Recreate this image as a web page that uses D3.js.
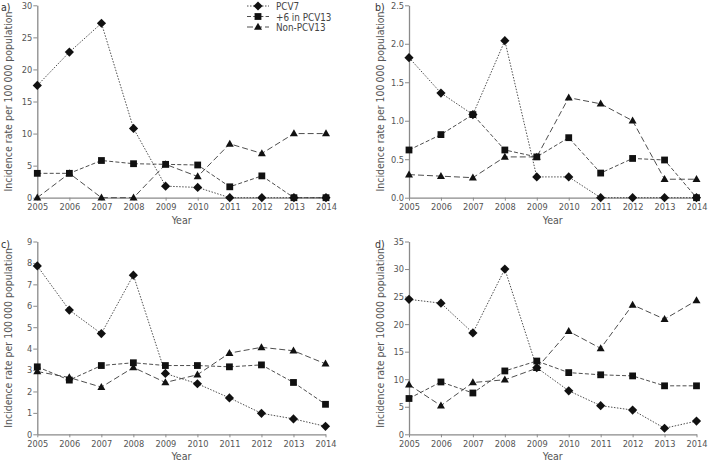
<!DOCTYPE html>
<html><head><meta charset="utf-8">
<script src="https://cdn.jsdelivr.net/npm/d3@7"></script>
<style>
body{margin:0;background:#fff;}
svg text{font-family:"DejaVu Sans","Liberation Sans",sans-serif;font-stretch:condensed;}
</style></head>
<body><svg id="chart" width="709" height="464"></svg>
<script>
const years = [2005,2006,2007,2008,2009,2010,2011,2012,2013,2014];
const seriesNames = ["PCV7", "+6 in PCV13", "Non-PCV13"];

// panel a
const aPCV7  = [17.5,22.7,27.2,10.8,1.8,1.6,0,0,0,0];
const aPlus6 = [3.8,3.8,5.8,5.3,5.2,5.1,1.7,3.4,0,0];
const aNon   = [0,3.8,0,0,5.2,3.3,8.4,6.9,10,10];
const aTicks = [0,5,10,15,20,25,30];
// panel b
const bPCV7  = [1.82,1.36,1.08,2.04,0.27,0.27,0,0,0,0];
const bPlus6 = [0.62,0.82,1.08,0.62,0.53,0.78,0.32,0.51,0.49,0];
const bNon   = [0.30,0.28,0.26,0.53,0.53,1.30,1.22,1.0,0.24,0.24];
const bTicks = [0,0.5,1.0,1.5,2.0,2.5];
// panel c
const cPCV7  = [7.86,5.8,4.7,7.43,2.84,2.36,1.70,0.98,0.72,0.37];
const cPlus6 = [3.15,2.53,3.21,3.34,3.21,3.21,3.15,3.24,2.42,1.40];
const cNon   = [2.93,2.65,2.2,3.12,2.42,2.78,3.79,4.06,3.9,3.29];
const cTicks = [0,1,2,3,4,5,6,7,8,9];
// panel d
const dPCV7  = [24.5,23.8,18.4,30.0,12.1,7.9,5.2,4.4,1.1,2.4];
const dPlus6 = [6.5,9.5,7.5,11.5,13.3,11.2,10.8,10.6,8.8,8.8];
const dNon   = [9.0,5.2,9.4,9.9,12.0,18.7,15.6,23.5,20.9,24.3];
const dTicks = [0,5,10,15,20,25,30,35];

const panels = [
  {label:"a)", series:[aPCV7,aPlus6,aNon], ticks:aTicks, fmt:d3.format("d"),  x0:37.3, x1:326,   y0:197.7, y1:5.3,  lx:1,   ly:3,   legend:true},
  {label:"b)", series:[bPCV7,bPlus6,bNon], ticks:bTicks, fmt:d3.format(".1f"),x0:409,  x1:696.5, y0:197.7, y1:5.3,  lx:375, ly:3},
  {label:"c)", series:[cPCV7,cPlus6,cNon], ticks:cTicks, fmt:d3.format("d"),  x0:37.3, x1:325.5, y0:434.3, y1:241.5,lx:1,   ly:240},
  {label:"d)", series:[dPCV7,dPlus6,dNon], ticks:dTicks, fmt:d3.format("d"),  x0:409,  x1:696.5, y0:434.3, y1:241.5,lx:375, ly:240}
];

const dashes = ["1.5,1.5","4,2.2","6,3"];
const lineColor = "#3a3a3a";
const axisColor = "#8a8a8a";
const textColor = "#555";

const svg = d3.select("#chart");

// size fonts so that sample strings match the reference widths
function fitSize(sample, target, base) {
  const t = svg.append("text").style("font-size", base + "px").text(sample);
  const w = t.node().getComputedTextLength();
  t.remove();
  return base * target / w;
}
const tickSize = fitSize("2005", 21, 11);
const titleSize = fitSize("Incidence rate per 100\u2009000 population", 180, 11);
const yearSize = fitSize("Year", 20, 11);
const legendSize = fitSize("+6 in PCV13", 55.5, 11);

function drawMarker(g, i, x, y) {
  let d;
  if (i === 0) { const r = 4.6; d = `M0,${-r}L${r},0L0,${r}L${-r},0Z`; }
  else if (i === 1) { const r = 3.4; d = `M${-r},${-r}H${r}V${r}H${-r}Z`; }
  else { const w = 4, h = 7; d = `M0,${-h*0.6}L${w},${h*0.4}L${-w},${h*0.4}Z`; }
  g.append("path").attr("d", d).attr("transform", `translate(${x},${y})`).attr("fill", "#111");
}

panels.forEach(p => {
  const g = svg.append("g");
  const x = d3.scaleLinear().domain([2005, 2014]).range([p.x0, p.x1]);
  const ymax = p.ticks[p.ticks.length-1];
  const y = d3.scaleLinear().domain([0, ymax]).range([p.y0, p.y1]);

  const xa = g.append("g").attr("transform", `translate(0,${p.y0})`)
    .call(d3.axisBottom(x).tickValues(years).tickFormat(d3.format("d")).tickSize(3).tickSizeOuter(0));
  const ya = g.append("g").attr("transform", `translate(${p.x0},0)`)
    .call(d3.axisLeft(y).tickValues(p.ticks).tickFormat(p.fmt).tickSize(4).tickSizeOuter(0));
  [xa, ya].forEach(a => {
    a.select(".domain").attr("stroke", axisColor).attr("stroke-width", 1.3);
    a.selectAll(".tick line").attr("stroke", axisColor);
    a.selectAll(".tick text").attr("fill", textColor).style("font-size", tickSize + "px");
  });
  xa.selectAll(".tick text").attr("dy", "0.95em").attr("y", 3.5);
  ya.selectAll(".tick text").attr("x", -5);

  p.series.forEach((vals, i) => {
    const line = d3.line().x((d, j) => x(years[j])).y(d => y(d));
    g.append("path").datum(vals).attr("d", line)
      .attr("fill", "none").attr("stroke", lineColor).attr("stroke-width", 0.9)
      .attr("stroke-dasharray", dashes[i]);
  });
  p.series.forEach((vals, i) => {
    vals.forEach((v, j) => drawMarker(g, i, x(years[j]), y(v)));
  });

  const cx = (p.x0 + p.x1) / 2;
  g.append("text").attr("x", cx).attr("y", p.y0 + 26).attr("text-anchor", "middle")
    .attr("fill", textColor).style("font-size", yearSize + "px").text("Year");
  const cy = (p.y0 + p.y1) / 2;
  g.append("text").attr("transform", `translate(${p.x0 - 25.5},${cy}) rotate(-90)`)
    .attr("text-anchor", "middle").attr("fill", textColor).style("font-size", titleSize + "px")
    .text("Incidence rate per 100\u2009000 population");

  g.append("text").attr("x", p.lx).attr("y", p.ly + 8).attr("fill", "#333")
    .style("font-size", "10.5px").text(p.label);

  if (p.legend) {
    const lg = g.append("g");
    const rows = [6, 16.5, 27];
    seriesNames.forEach((name, i) => {
      const ry = rows[i];
      lg.append("line").attr("x1", 247).attr("x2", 269).attr("y1", ry).attr("y2", ry)
        .attr("stroke", lineColor).attr("stroke-width", 0.9).attr("stroke-dasharray", dashes[i]);
      drawMarker(lg, i, 258, ry);
      lg.append("text").attr("x", 276).attr("y", ry + 4.3).attr("fill", "#444")
        .style("font-size", legendSize + "px").text(name);
    });
  }
});
</script>
</body></html>
